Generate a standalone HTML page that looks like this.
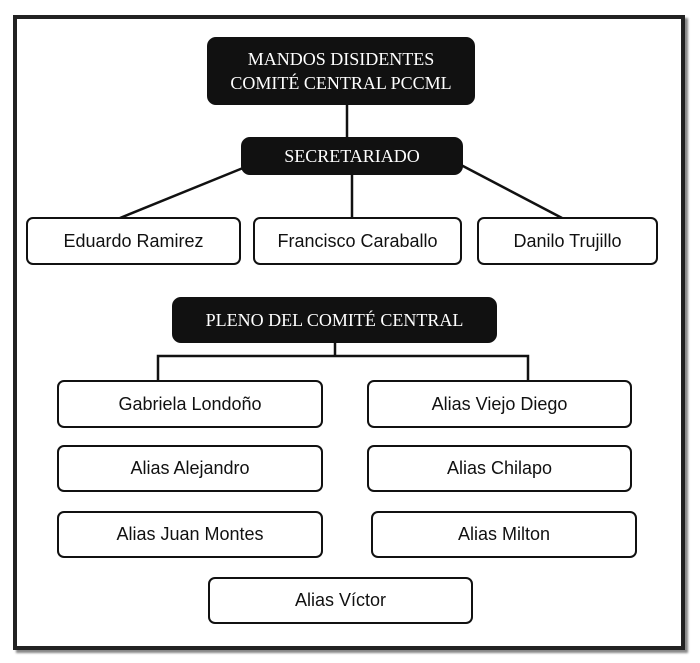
<!DOCTYPE html><html><head><style>
body{margin:0;background:#fff;width:700px;height:663px;overflow:hidden;position:relative;font-family:"Liberation Sans",sans-serif}
.f{position:absolute;left:13px;top:15px;width:664px;height:627px;border:4px solid #222;box-shadow:3px 3px 2px #888}
.b{position:absolute;box-sizing:border-box;border:2px solid #111;border-radius:7px;background:#fff;display:flex;align-items:center;justify-content:center;font-size:18px;color:#111}
.k{background:#111;color:#fff;font-family:"Liberation Serif",serif;text-align:center;border-radius:9px}
</style></head><body>
<div class="f"></div>
<svg style="position:absolute;left:0;top:0" width="700" height="663"><g stroke="#111" stroke-width="2.5" fill="none">
<line x1="347" y1="105" x2="347" y2="140"/><line x1="243" y1="168" x2="120" y2="218"/><line x1="352" y1="175" x2="352" y2="218"/><line x1="461" y1="165" x2="562" y2="218"/>
<path d="M335 343V356M158 381V356H528V381"/></g></svg>
<div class="b k" style="left:207px;top:37px;width:268px;height:68px;font-size:18px;line-height:24px">MANDOS DISIDENTES<br>COMITÉ CENTRAL PCCML</div>
<div class="b k" style="left:241px;top:137px;width:222px;height:38px;font-size:18px">SECRETARIADO</div>
<div class="b" style="left:26px;top:217px;width:215px;height:48px">Eduardo Ramirez</div>
<div class="b" style="left:253px;top:217px;width:209px;height:48px">Francisco Caraballo</div>
<div class="b" style="left:477px;top:217px;width:181px;height:48px">Danilo Trujillo</div>
<div class="b k" style="left:172px;top:297px;width:325px;height:46px;font-size:18px">PLENO DEL COMITÉ CENTRAL</div>
<div class="b" style="left:57px;top:380px;width:266px;height:48px">Gabriela Londoño</div>
<div class="b" style="left:367px;top:380px;width:265px;height:48px">Alias Viejo Diego</div>
<div class="b" style="left:57px;top:445px;width:266px;height:47px">Alias Alejandro</div>
<div class="b" style="left:367px;top:445px;width:265px;height:47px">Alias Chilapo</div>
<div class="b" style="left:57px;top:511px;width:266px;height:47px">Alias Juan Montes</div>
<div class="b" style="left:371px;top:511px;width:266px;height:47px">Alias Milton</div>
<div class="b" style="left:208px;top:577px;width:265px;height:47px">Alias Víctor</div>
</body></html>
